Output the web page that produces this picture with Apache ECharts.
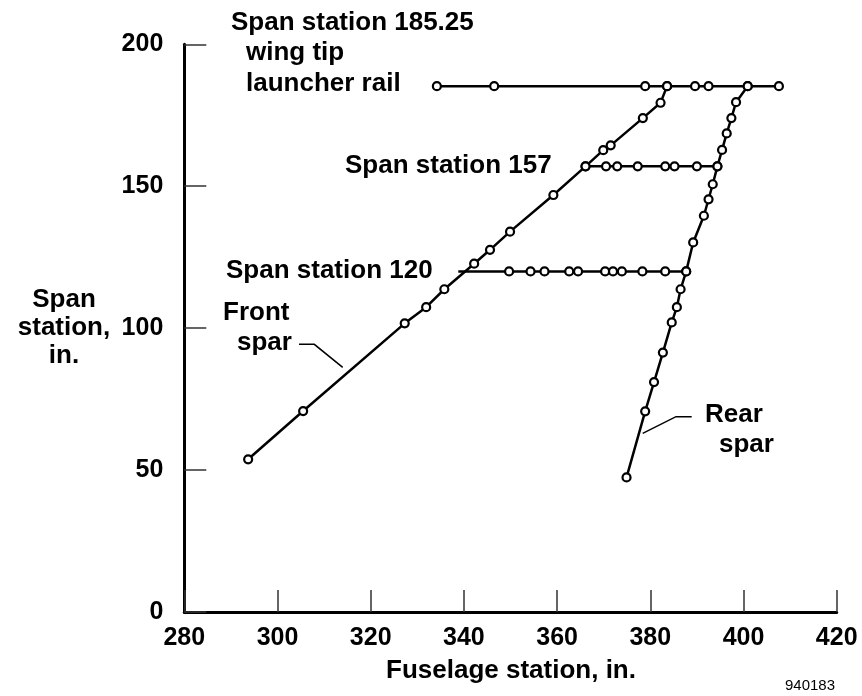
<!DOCTYPE html>
<html>
<head>
<meta charset="utf-8">
<script src="https://cdn.jsdelivr.net/npm/echarts@6/dist/echarts.min.js"></script>
<style>
  html, body { margin: 0; padding: 0; background: #fff; }
  #chart { width: 862px; height: 696px; }
</style>
</head>
<body>
<div id="chart"></div>
<script>
// data (fuselage station, span station)
var frontSpar = [
    [293.7, 53.8], [305.5, 70.8], [327.3, 101.7], [331.9, 107.4], [335.8, 113.7],
    [342.2, 122.7], [345.6, 127.6], [349.9, 134.0], [359.2, 146.9], [366.1, 157],
    [369.9, 162.7], [371.5, 164.4], [378.4, 174.0], [382.2, 179.4], [383.6, 185.25]
];
var rearSpar = [
    [374.9, 47.4], [378.9, 70.7], [380.8, 81.0], [382.7, 91.4], [384.6, 102.0],
    [385.7, 107.4], [386.5, 113.7], [387.7, 120], [389.2, 130.2], [391.5, 139.6],
    [392.5, 145.4], [393.4, 150.7], [394.4, 157], [395.4, 162.8], [396.4, 168.6],
    [397.4, 174.0], [398.4, 179.6], [400.9, 185.25]
];
// chordwise stations along each span station line
var span120 = 120;
var span120Start = 338.8; // joins the front spar, no gauge there
var span120X = [349.7, 354.3, 357.3, 362.6, 364.5, 370.3, 372.0, 373.9, 378.3, 383.2, 387.7];
var span157 = 157;
var span157X = [366.1, 370.5, 372.9, 377.3, 383.2, 385.2, 390.0, 394.4];
var span185 = 185.25;
var span185X = [334.2, 346.5, 378.9, 383.6, 389.6, 392.5, 400.9, 407.6];

var xTicks = [280, 300, 320, 340, 360, 380, 400, 420];
var yTicks = [0, 50, 100, 150, 200];

var FONT = '"Liberation Sans", Arial, Helvetica, sans-serif';

function row(xs, y) {
    var out = [];
    for (var i = 0; i < xs.length; i++) {
        out.push([xs[i], y]);
    }
    return out;
}

var line120 = [[span120Start, span120]].concat(row(span120X, span120));
var line157 = row(span157X, span157);
var line185 = row(span185X, span185);

// every gauge point gets a circle
var gauges = frontSpar.concat(rearSpar, row(span120X, span120), line157, line185);

function lineSeries(name, data) {
    return {
        name: name,
        type: 'line',
        data: data,
        symbol: 'none',
        silent: true,
        z: 2,
        lineStyle: { color: '#000', width: 2.5 }
    };
}

function label(text, x, y, align, size, weight) {
    return {
        type: 'text',
        x: x,
        y: y,
        z: 10,
        style: {
            text: text,
            font: (weight || 'bold') + ' ' + (size || 26) + 'px ' + FONT,
            fill: '#000',
            align: align || 'left',
            verticalAlign: 'middle'
        }
    };
}

var myChart = echarts.init(document.getElementById('chart'), null, { renderer: 'canvas' });
var option = {
    animation: false,
    backgroundColor: '#fff',
    grid: { left: 184.3, right: 25.3, top: 44.3, bottom: 84 },
    xAxis: {
        type: 'value',
        min: xTicks[0],
        max: xTicks[xTicks.length - 1],
        interval: 20,
        splitLine: { show: false },
        axisLine: { show: true, onZero: false, lineStyle: { color: '#000', width: 3 } },
        axisTick: { show: true, inside: true, length: 22, lineStyle: { color: '#333', width: 1.5 } },
        axisLabel: { margin: 14, color: '#000', fontSize: 25, fontWeight: 'bold', fontFamily: FONT }
    },
    yAxis: {
        type: 'value',
        min: yTicks[0],
        max: yTicks[yTicks.length - 1],
        interval: 50,
        splitLine: { show: false },
        axisLine: { show: true, onZero: false, lineStyle: { color: '#000', width: 3 } },
        axisTick: { show: true, inside: true, length: 22, lineStyle: { color: '#333', width: 1.5 } },
        axisLabel: {
            margin: 21, padding: [4, 0, 0, 0],
            color: '#000', fontSize: 25, fontWeight: 'bold', fontFamily: FONT
        }
    },
    series: [
        lineSeries('Front spar', frontSpar),
        lineSeries('Rear spar', rearSpar),
        lineSeries('Span station 120', line120),
        lineSeries('Span station 157', line157),
        lineSeries('Span station 185.25', line185),
        {
            name: 'gauges',
            type: 'scatter',
            data: gauges,
            symbol: 'circle',
            symbolSize: 8,
            silent: true,
            z: 5,
            itemStyle: { color: '#fff', borderColor: '#000', borderWidth: 2.2, opacity: 1 }
        }
    ],
    graphic: [
        label('Span station 185.25', 231, 22.7),
        label('wing tip', 246, 53),
        label('launcher rail', 246, 84),
        label('Span station 157', 345, 166),
        label('Span station 120', 226, 271),
        label('Front', 223, 312.5),
        label('spar', 237, 342.7),
        label('Rear', 705, 415),
        label('spar', 719, 445),
        label('Span', 64, 300, 'center'),
        label('station,', 64, 328, 'center'),
        label('in.', 64, 356, 'center'),
        label('Fuselage station, in.', 511, 671, 'center'),
        label('940183', 835, 685.5, 'right', 15, 'normal'),
        // leader lines
        {
            type: 'polyline',
            z: 10,
            shape: { points: [[299, 344.3], [314.3, 344.3], [342.7, 367.3]] },
            style: { stroke: '#000', lineWidth: 1.5, fill: null }
        },
        {
            type: 'polyline',
            z: 10,
            shape: { points: [[642.7, 433.3], [676, 416.7], [691.7, 416.7]] },
            style: { stroke: '#000', lineWidth: 1.5, fill: null }
        }
    ]
};
myChart.setOption(option);
</script>
</body>
</html>
